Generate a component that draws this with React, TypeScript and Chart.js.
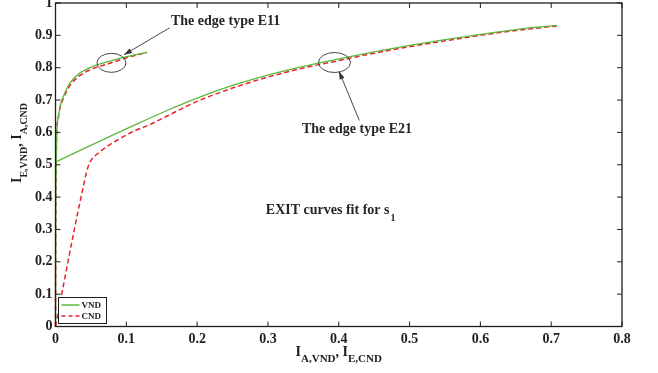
import React, { useEffect, useRef } from "react";
import { Chart, registerables } from "chart.js";

Chart.register(...registerables);

const FONT = '"Liberation Serif", "Times New Roman", serif';
const GREEN = "#5cb83c";
const RED = "#e8232b";
const INK = "#1e1e1e";

// Tick values
const xTicks = [0, 0.1, 0.2, 0.3, 0.4, 0.5, 0.6, 0.7, 0.8];
const yTicks = [0, 0.1, 0.2, 0.3, 0.4, 0.5, 0.6, 0.7, 0.8, 0.9, 1];

// Edge type E11 curves
const e11VndX = [0, 0.0003, 0.001, 0.0017, 0.004, 0.0064, 0.011, 0.0205, 0.0346, 0.053, 0.077, 0.1006, 0.129];
const e11VndY = [0, 0.3, 0.5, 0.598, 0.649, 0.68, 0.711, 0.753, 0.784, 0.804, 0.82, 0.834, 0.847];
const e11CndX = [0, 0.0003, 0.001, 0.0017, 0.004, 0.0064, 0.011, 0.0205, 0.0346, 0.053, 0.077, 0.1006, 0.129];
const e11CndY = [0, 0.3, 0.5, 0.595, 0.645, 0.675, 0.705, 0.745, 0.776, 0.797, 0.814, 0.831, 0.847];

// Edge type E21 curves
const e21VndX = [0, 0.04, 0.08, 0.12, 0.16, 0.2, 0.25, 0.3, 0.35, 0.4, 0.45, 0.5, 0.55, 0.6, 0.65, 0.708];
const e21VndY = [0.508, 0.55, 0.591, 0.631, 0.67, 0.706, 0.745, 0.777, 0.804, 0.827, 0.849, 0.869, 0.887, 0.903, 0.918, 0.931];
const e21CndX = [0, 0.0275, 0.0393, 0.044, 0.0487, 0.0629, 0.0864, 0.11, 0.133, 0.157, 0.2, 0.25, 0.3, 0.35, 0.4, 0.45, 0.5, 0.55, 0.6, 0.65, 0.708];
const e21CndY = [0, 0.31, 0.433, 0.479, 0.508, 0.54, 0.575, 0.603, 0.624, 0.65, 0.696, 0.737, 0.771, 0.799, 0.822, 0.845, 0.865, 0.883, 0.9, 0.915, 0.929];

// Legend labels
const legendLabels = ["VND", "CND"];

// Annotations (data coordinates)
const e11Label = { text: "The edge type E11", x: 0.163, y: 0.933 };
const e21Label = { text: "The edge type E21", x: 0.348, y: 0.599 };
const e11Ellipse = { x: 0.079, y: 0.815 };
const e21Ellipse = { x: 0.394, y: 0.816 };
const e11Arrow = { x1: 0.161, y1: 0.923, x2: 0.0967, y2: 0.84 };
const e21Arrow = { x1: 0.429, y1: 0.637, x2: 0.4004, y2: 0.789 };
const exitLabel = { text: "EXIT curves fit for s", sub: "1", x: 0.297, y: 0.348 };

const pts = (xs: number[], ys: number[]) => xs.map((v, i) => ({ x: v, y: ys[i] }));

type Part = { t: string; sub?: boolean };

function drawParts(ctx: CanvasRenderingContext2D, parts: Part[], cx: number, by: number, main: number, sub: number, drop: number) {
  let w = 0;
  parts.forEach((p) => {
    ctx.font = `bold ${p.sub ? sub : main}px ${FONT}`;
    w += ctx.measureText(p.t).width;
  });
  let x = cx - w / 2;
  ctx.textAlign = "left";
  ctx.textBaseline = "alphabetic";
  parts.forEach((p) => {
    ctx.font = `bold ${p.sub ? sub : main}px ${FONT}`;
    ctx.fillText(p.t, x, p.sub ? by + drop : by);
    x += ctx.measureText(p.t).width;
  });
}

function arrow(ctx: CanvasRenderingContext2D, x1: number, y1: number, x2: number, y2: number) {
  ctx.beginPath();
  ctx.moveTo(x1, y1);
  ctx.lineTo(x2, y2);
  ctx.stroke();
  const ang = Math.atan2(y2 - y1, x2 - x1);
  const L = 8;
  const W = 2.6;
  const bx = x2 - L * Math.cos(ang);
  const by = y2 - L * Math.sin(ang);
  ctx.beginPath();
  ctx.moveTo(x2, y2);
  ctx.lineTo(bx + W * Math.sin(ang), by - W * Math.cos(ang));
  ctx.lineTo(bx - W * Math.sin(ang), by + W * Math.cos(ang));
  ctx.closePath();
  ctx.fill();
}

const decorations = {
  id: "decorations",
  afterDraw(chart: any) {
    const { ctx, chartArea: a, scales } = chart;
    const xs = scales.x;
    const ys = scales.y;
    const px = (v: number) => xs.getPixelForValue(v);
    const py = (v: number) => ys.getPixelForValue(v);
    ctx.save();
    ctx.strokeStyle = INK;
    ctx.fillStyle = INK;

    // frame
    ctx.lineWidth = 1.3;
    ctx.strokeRect(a.left, a.top, a.right - a.left, a.bottom - a.top);

    // inward ticks
    ctx.lineWidth = 1;
    const T = 5;
    xTicks.forEach((v) => {
      const p = px(v);
      ctx.beginPath();
      ctx.moveTo(p, a.bottom);
      ctx.lineTo(p, a.bottom - T);
      ctx.moveTo(p, a.top);
      ctx.lineTo(p, a.top + T);
      ctx.stroke();
    });
    yTicks.forEach((v) => {
      const p = py(v);
      ctx.beginPath();
      ctx.moveTo(a.left, p);
      ctx.lineTo(a.left + T, p);
      ctx.moveTo(a.right, p);
      ctx.lineTo(a.right - T, p);
      ctx.stroke();
    });

    // ellipses
    ctx.lineWidth = 0.9;
    ctx.strokeStyle = "#333";
    ctx.beginPath();
    ctx.ellipse(px(e11Ellipse.x), py(e11Ellipse.y), 14.5, 9.5, 0, 0, Math.PI * 2);
    ctx.stroke();
    ctx.beginPath();
    ctx.ellipse(px(e21Ellipse.x), py(e21Ellipse.y), 16, 10, 0, 0, Math.PI * 2);
    ctx.stroke();

    // arrows
    ctx.fillStyle = "#333";
    arrow(ctx, px(e11Arrow.x1), py(e11Arrow.y1), px(e11Arrow.x2), py(e11Arrow.y2));
    arrow(ctx, px(e21Arrow.x1), py(e21Arrow.y1), px(e21Arrow.x2), py(e21Arrow.y2));

    // annotation texts
    ctx.fillStyle = "#262626";
    ctx.textAlign = "left";
    ctx.textBaseline = "alphabetic";
    ctx.font = `bold 14px ${FONT}`;
    ctx.fillText(e11Label.text, px(e11Label.x), py(e11Label.y));
    ctx.fillText(e21Label.text, px(e21Label.x), py(e21Label.y));
    const ex = px(exitLabel.x);
    const ey = py(exitLabel.y);
    ctx.fillText(exitLabel.text, ex, ey);
    const ew = ctx.measureText(exitLabel.text).width;
    ctx.font = `bold 10px ${FONT}`;
    ctx.fillText(exitLabel.sub, ex + ew + 1, ey + 7);

    // axis titles
    ctx.fillStyle = INK;
    drawParts(
      ctx,
      [{ t: "I" }, { t: "A,VND", sub: true }, { t: ", " }, { t: "I" }, { t: "E,CND", sub: true }],
      (a.left + a.right) / 2 + 0,
      356,
      14,
      11,
      6
    );
    ctx.save();
    ctx.translate(21, 143);
    ctx.rotate(-Math.PI / 2);
    drawParts(
      ctx,
      [{ t: "I" }, { t: "E,VND", sub: true }, { t: ", " }, { t: "I" }, { t: "A,CND", sub: true }],
      0,
      0,
      14,
      10,
      6
    );
    ctx.restore();

    // legend
    const lx = a.left + 3;
    const ly = a.bottom - 29;
    const lw = 48;
    const lh = 26;
    ctx.fillStyle = "#fff";
    ctx.fillRect(lx, ly, lw, lh);
    ctx.strokeStyle = INK;
    ctx.lineWidth = 1;
    ctx.strokeRect(lx, ly, lw, lh);
    ctx.lineWidth = 1.5;
    ctx.strokeStyle = GREEN;
    ctx.beginPath();
    ctx.moveTo(lx + 3, ly + 7.5);
    ctx.lineTo(lx + 21, ly + 7.5);
    ctx.stroke();
    ctx.strokeStyle = RED;
    ctx.setLineDash([4, 3]);
    ctx.beginPath();
    ctx.moveTo(lx + 3, ly + 18.5);
    ctx.lineTo(lx + 21, ly + 18.5);
    ctx.stroke();
    ctx.setLineDash([]);
    ctx.fillStyle = INK;
    ctx.font = `bold 9px ${FONT}`;
    ctx.fillText(legendLabels[0], lx + 23, ly + 10.5);
    ctx.fillText(legendLabels[1], lx + 23, ly + 21.5);

    ctx.restore();
  },
};

export default function App() {
  const ref = useRef<HTMLCanvasElement | null>(null);
  useEffect(() => {
    if (!ref.current) return;
    const green = { borderColor: GREEN, borderWidth: 1.3, pointRadius: 0, showLine: true, fill: false, cubicInterpolationMode: "monotone" as const, clip: 6 };
    const red = { borderColor: RED, borderWidth: 1.5, borderDash: [5, 3], pointRadius: 0, showLine: true, fill: false, cubicInterpolationMode: "monotone" as const, clip: 6 };
    const chart = new Chart(ref.current, {
      type: "scatter",
      data: {
        datasets: [
          { label: legendLabels[0], data: pts(e11VndX, e11VndY), ...green },
          { label: legendLabels[1], data: pts(e11CndX, e11CndY), ...red },
          { label: legendLabels[0] + " E21", data: pts(e21VndX, e21VndY), ...green },
          { label: legendLabels[1] + " E21", data: pts(e21CndX, e21CndY), ...red },
        ] as any,
      },
      options: {
        animation: false,
        responsive: false,
        devicePixelRatio: 1,
        layout: { padding: { top: 3, right: 36, left: 0, bottom: 0 } },
        plugins: { legend: { display: false }, tooltip: { enabled: false } },
        scales: {
          x: {
            type: "linear",
            min: 0,
            max: 0.8,
            grid: { display: false, drawTicks: false },
            border: { display: false },
            afterBuildTicks: (s: any) => {
              s.ticks = xTicks.map((v) => ({ value: v }));
            },
            afterFit: (s: any) => {
              s.height = 46.5;
              s.paddingLeft = 0;
              s.paddingRight = 0;
            },
            ticks: {
              padding: 4,
              color: INK,
              font: { family: FONT, size: 14, weight: "bold" },
              callback: (v: any) => String(v),
            },
          },
          y: {
            type: "linear",
            min: 0,
            max: 1,
            grid: { display: false, drawTicks: false },
            border: { display: false },
            afterBuildTicks: (s: any) => {
              s.ticks = yTicks.map((v) => ({ value: v }));
            },
            afterFit: (s: any) => {
              s.width = 55.5;
              s.paddingTop = 0;
              s.paddingBottom = 0;
            },
            ticks: {
              padding: 3,
              color: INK,
              font: { family: FONT, size: 14, weight: "bold" },
              callback: (v: any) => String(v),
            },
          },
        },
      } as any,
      plugins: [decorations],
    });
    return () => chart.destroy();
  }, []);
  return (
    <div style={{ position: "fixed", left: 0, top: 0, width: 658, height: 373, background: "#fff" }}>
      <canvas ref={ref} width={658} height={373} style={{ width: 658, height: 373, display: "block" }} />
    </div>
  );
}
